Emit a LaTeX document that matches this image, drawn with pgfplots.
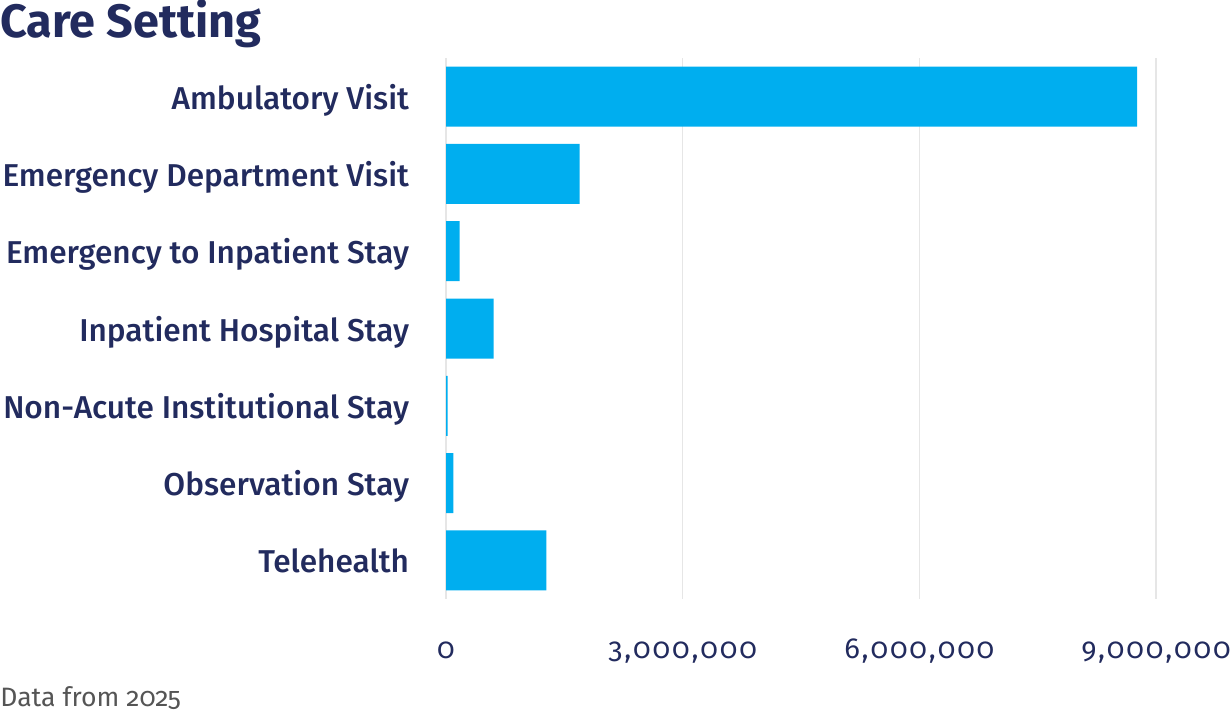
\documentclass[border=0pt]{standalone}
\usepackage{fontspec}
\setmainfont{Fira Sans}
\newfontfamily\fmed{Fira Sans Medium}
\newfontfamily\fnum[Numbers=OldStyle]{Fira Sans}
\newfontfamily\fnumsp[Numbers=OldStyle,LetterSpace=6.5]{Fira Sans}
\usepackage{pgfplots}
\pgfplotsset{compat=1.18}
\definecolor{navy}{HTML}{222B5E}
\definecolor{barc}{HTML}{00AEEF}
\definecolor{gridc}{HTML}{E6E6E6}
\definecolor{notec}{HTML}{555555}
\begin{document}
\begin{tikzpicture}
\path[use as bounding box] (0pt,0pt) rectangle (615pt,-359pt);
\node[anchor=base west, inner sep=0, font=\fontsize{23.4}{24}\selectfont\bfseries, text=navy] at (0pt,-18.5pt) {Care Setting};
\node[anchor=base west, inner sep=0, font=\fnum\fontsize{13.3}{14}\selectfont, text=notec] at (0pt,-353pt) {Data from 2025};
\begin{axis}[at={(223pt,-299.5pt)}, anchor=south west, scale only axis,
  width=355pt, height=270.5pt,
  xmin=0, xmax=9000000, ymin=-0.5, ymax=6.5, y dir=reverse,
  xbar, bar width=30pt,
  axis line style={draw=none}, tick style={draw=none},
  xmajorgrids, major grid style={gridc, line width=0.8pt},
  xtick={0,3000000,6000000,9000000},
  xticklabels={0,{3,000,000},{6,000,000},{9,000,000}},
  xticklabel style={font=\fnumsp\fontsize{14.5}{15}\selectfont, text=navy, anchor=base, yshift=-29.5pt},
  ytick={0,1,2,3,4,5,6},
  yticklabels={Ambulatory Visit,Emergency Department Visit,Emergency to Inpatient Stay,Inpatient Hospital Stay,Non-Acute Institutional Stay,Observation Stay,Telehealth},
  yticklabel style={font=\fmed\fontsize{15.8}{16}\selectfont, text=navy, anchor=base east, inner sep=0pt, xshift=-14pt, yshift=-6.25pt},
]
\addplot[xbar, fill=barc, draw=none] coordinates {(8762000,0) (1693000,1) (172000,2) (603000,3) (20000,4) (93000,5) (1271000,6)};
\end{axis}
\end{tikzpicture}
\end{document}
